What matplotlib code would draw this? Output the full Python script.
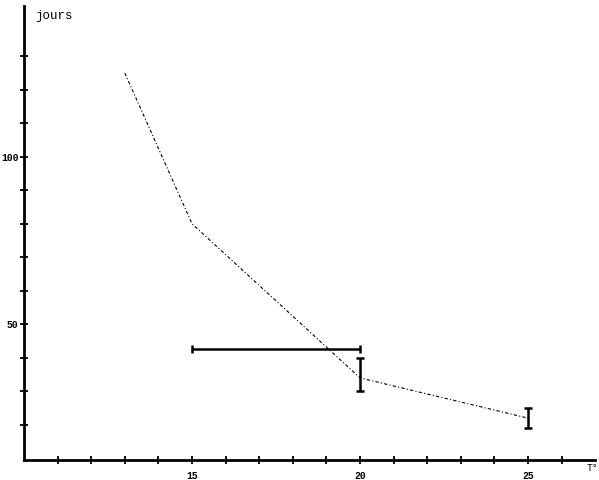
import matplotlib
matplotlib.use("Agg")
import matplotlib.pyplot as plt
import numpy as np

# temperature (deg) vs duration (jours)
temp = [13, 15, 20, 25]
jours = [125, 80, 34, 22]

# error bars
err_x = [20, 25]
err_y = [35, 22]
err_ylo = [5, 3]
err_yhi = [5, 3]
hbar_y = 42.5
hbar_x = [15, 20]

yticks = np.arange(20, 131, 10)
ylabels = {50: '50', 100: '100'}
xticks = np.arange(11, 27, 1)
xlabels = {15: '15', 20: '20', 25: '25'}

fig = plt.figure(figsize=(5.99, 4.80), dpi=100)
ax = fig.add_axes([0, 0, 1, 1])
ax.set_xlim(9.286, 27.11)
ax.set_ylim(3.53, 146.8)

ax.plot(temp, jours, color='k', lw=0.8, linestyle=(0, (3, 2, 1, 2)))
ax.errorbar(err_x, err_y, yerr=[err_ylo, err_yhi], fmt='none', ecolor='k',
            elinewidth=1.8, capsize=3, capthick=1.8)
ax.errorbar([np.mean(hbar_x)], [hbar_y], xerr=[[2.5], [2.5]], fmt='none',
            ecolor='k', elinewidth=1.8, capsize=3, capthick=1.8)

for s in ['top', 'right']:
    ax.spines[s].set_visible(False)
ax.spines['left'].set_position(('data', 10))
ax.spines['bottom'].set_position(('data', 9.5))
ax.spines['left'].set_bounds(9.5, 145)
ax.spines['bottom'].set_bounds(10, 27)
ax.spines['left'].set_linewidth(2)
ax.spines['bottom'].set_linewidth(2)

ax.set_yticks(yticks)
ax.set_yticklabels([ylabels.get(int(v), '') for v in yticks])
ax.set_xticks(xticks)
ax.set_xticklabels([xlabels.get(int(v), '') for v in xticks])
ax.tick_params(direction='inout', length=6, width=1.3, labelsize=7, pad=1)
for lab in ax.get_xticklabels() + ax.get_yticklabels():
    lab.set_family('Liberation Mono')
    lab.set_fontweight('bold')
ax.tick_params(axis='x', pad=5)

ax.text(10.35, 142, 'jours', family='Liberation Mono', fontsize=9,
        va='center', ha='left')
ax.text(26.75, 7.0, 'T°', family='Liberation Mono', fontsize=7,
        va='center', ha='left')

plt.savefig('out.png', dpi=100)
